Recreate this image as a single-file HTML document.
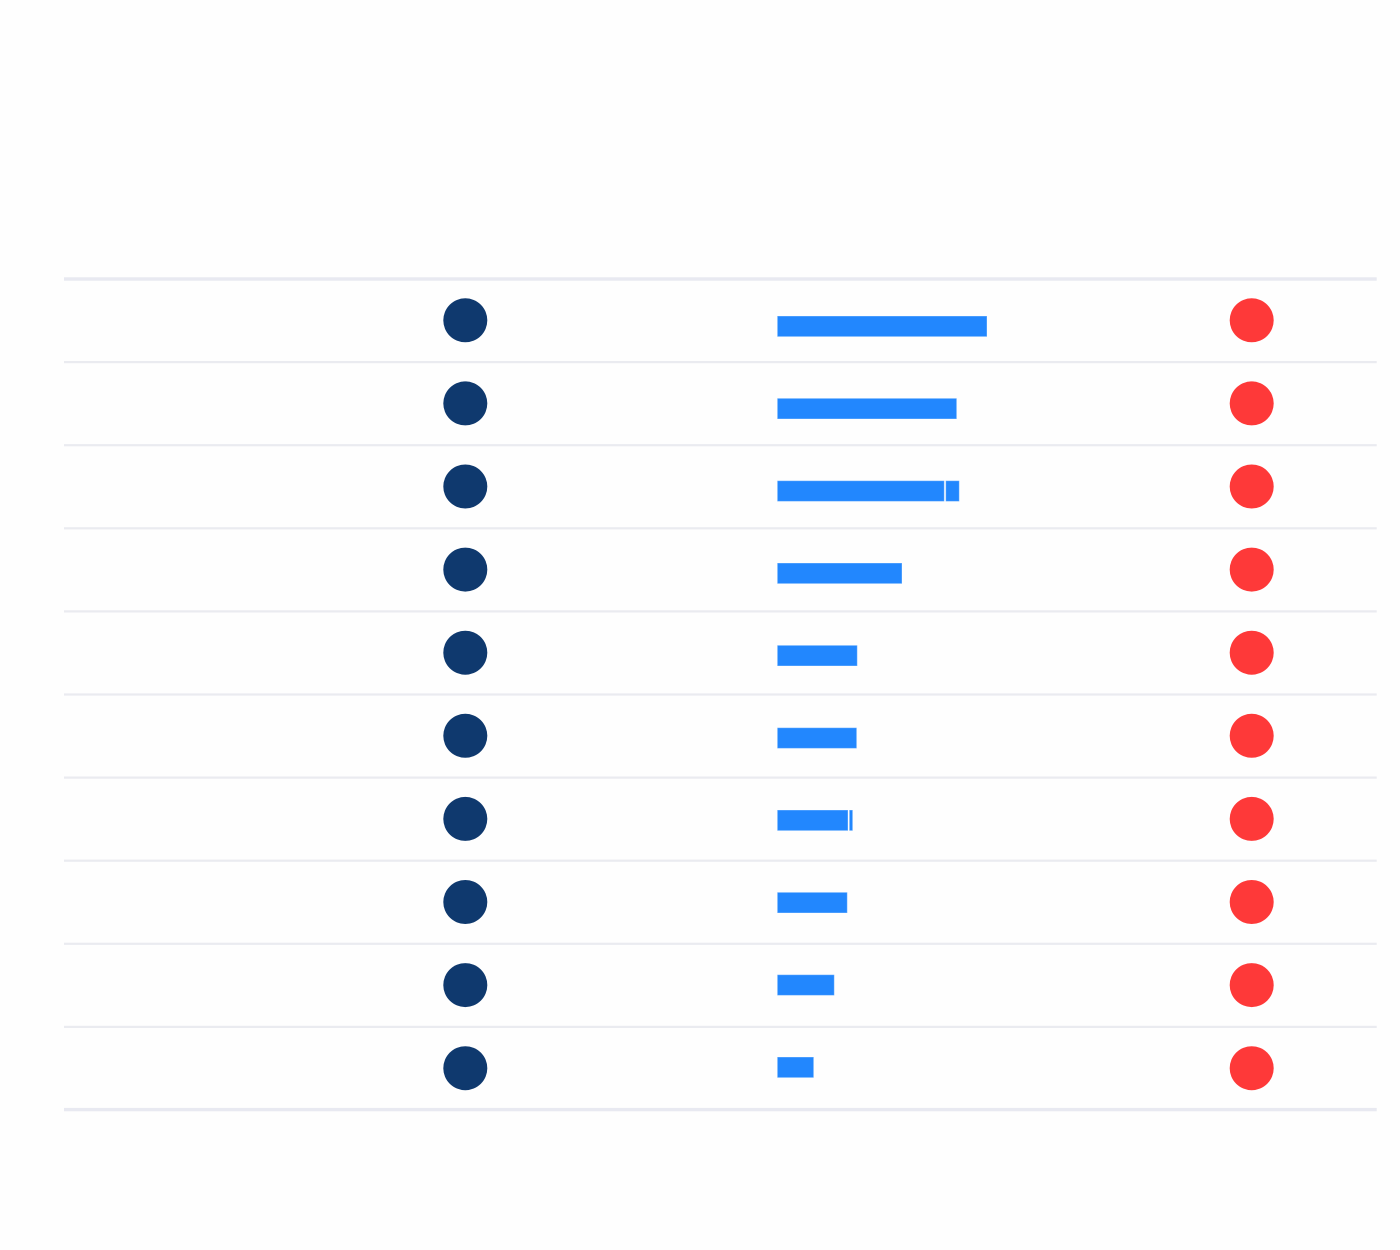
<!DOCTYPE html>
<html>
<head>
<meta charset="utf-8">
<style>
  html, body { margin: 0; padding: 0; background: #fefefe; }
  body { width: 1400px; height: 1250px; overflow: hidden; font-family: "Liberation Sans", sans-serif; }
  svg { display: block; }
</style>
</head>
<body>
<svg width="1400" height="1250" viewBox="0 0 1400 1250" xmlns="http://www.w3.org/2000/svg">
  <rect x="0" y="0" width="1400" height="1250" fill="#fefefe"/>
  <!-- top and bottom rules -->
  <rect x="64" y="277.3" width="1312.7" height="3.4" fill="#e8e9f1"/>
  <rect x="64" y="1107.9" width="1312.7" height="3.4" fill="#e8e9f1"/>
  <!-- row separators -->
  <g fill="#eaebf0">
    <rect x="64" y="361" width="1312.7" height="2.2"/>
    <rect x="64" y="444.1" width="1312.7" height="2.2"/>
    <rect x="64" y="527.2" width="1312.7" height="2.2"/>
    <rect x="64" y="610.3" width="1312.7" height="2.2"/>
    <rect x="64" y="693.4" width="1312.7" height="2.2"/>
    <rect x="64" y="776.5" width="1312.7" height="2.2"/>
    <rect x="64" y="859.6" width="1312.7" height="2.2"/>
    <rect x="64" y="942.7" width="1312.7" height="2.2"/>
    <rect x="64" y="1025.8" width="1312.7" height="2.2"/>
  </g>
  <!-- navy circles -->
  <g fill="#0f396e">
    <circle cx="465.3" cy="320.3" r="22"/>
    <circle cx="465.3" cy="403.4" r="22"/>
    <circle cx="465.3" cy="486.5" r="22"/>
    <circle cx="465.3" cy="569.6" r="22"/>
    <circle cx="465.3" cy="652.7" r="22"/>
    <circle cx="465.3" cy="735.8" r="22"/>
    <circle cx="465.3" cy="818.9" r="22"/>
    <circle cx="465.3" cy="902.0" r="22"/>
    <circle cx="465.3" cy="985.1" r="22"/>
    <circle cx="465.3" cy="1068.2" r="22"/>
  </g>
  <!-- red circles -->
  <g fill="#fe3939">
    <circle cx="1251.7" cy="320.3" r="22"/>
    <circle cx="1251.7" cy="403.4" r="22"/>
    <circle cx="1251.7" cy="486.5" r="22"/>
    <circle cx="1251.7" cy="569.6" r="22"/>
    <circle cx="1251.7" cy="652.7" r="22"/>
    <circle cx="1251.7" cy="735.8" r="22"/>
    <circle cx="1251.7" cy="818.9" r="22"/>
    <circle cx="1251.7" cy="902.0" r="22"/>
    <circle cx="1251.7" cy="985.1" r="22"/>
    <circle cx="1251.7" cy="1068.2" r="22"/>
  </g>
  <!-- blue bars -->
  <g fill="#2287fe" stroke="rgba(255,255,255,0.35)" stroke-width="1">
    <rect x="777.3" y="316.0" width="209.7" height="20.7"/>
    <rect x="777.3" y="398.3" width="179.4" height="20.7"/>
    <rect x="777.3" y="480.7" width="167.0" height="20.7"/>
    <rect x="945.7" y="480.7" width="13.6" height="20.7"/>
    <rect x="777.3" y="563.0" width="124.7" height="20.7"/>
    <rect x="777.3" y="645.3" width="80.0" height="20.7"/>
    <rect x="777.3" y="727.7" width="79.4" height="20.7"/>
    <rect x="777.3" y="810.0" width="70.7" height="20.7"/>
    <rect x="849.3" y="810.0" width="3.4" height="20.7"/>
    <rect x="777.3" y="892.3" width="70.0" height="20.7"/>
    <rect x="777.3" y="974.7" width="57.0" height="20.7"/>
    <rect x="777.3" y="1057.0" width="36.4" height="20.7"/>
  </g>
</svg>
</body>
</html>
